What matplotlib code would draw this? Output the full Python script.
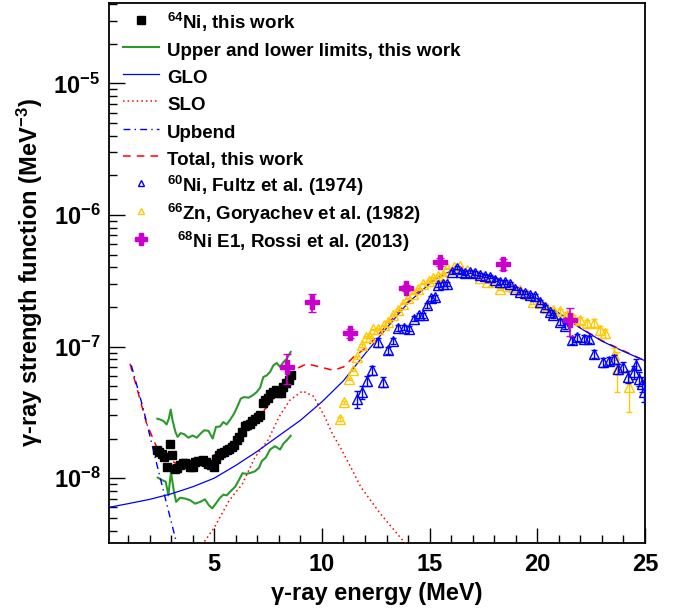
import matplotlib
matplotlib.use('Agg')
import matplotlib.pyplot as plt
from matplotlib.lines import Line2D
from matplotlib.ticker import MultipleLocator, LogLocator, NullFormatter

# 64Ni, this work
ni64_e = [2.33, 2.45, 2.57, 2.69, 2.81, 2.93, 3.05, 3.17, 3.29, 3.41, 3.53, 3.65, 3.77, 3.89,
          4.01, 4.13, 4.25, 4.37, 4.49, 4.61, 4.73, 4.85, 4.97, 5.09, 5.21, 5.33, 5.45, 5.57,
          5.69, 5.81, 5.93, 6.05, 6.17, 6.29, 6.41, 6.53, 6.65, 6.77, 6.89, 7.01, 7.13, 7.25,
          7.37, 7.49, 7.61, 7.73, 7.85, 7.97, 8.09, 8.21, 8.33, 8.45, 8.57]
ni64_s = [1.63e-8, 1.58e-8, 1.52e-8, 1.46e-8, 1.21e-8, 1.82e-8, 1.49e-8, 1.17e-8, 1.19e-8, 1.27e-8,
          1.30e-8, 1.31e-8, 1.28e-8, 1.22e-8, 1.22e-8, 1.32e-8, 1.36e-8, 1.36e-8, 1.37e-8, 1.33e-8,
          1.29e-8, 1.25e-8, 1.22e-8, 1.40e-8, 1.49e-8, 1.55e-8, 1.58e-8, 1.64e-8, 1.68e-8, 1.72e-8,
          1.78e-8, 1.95e-8, 2.05e-8, 2.24e-8, 2.50e-8, 2.55e-8, 2.59e-8, 2.70e-8, 2.83e-8, 2.92e-8,
          3.00e-8, 3.70e-8, 3.95e-8, 4.10e-8, 4.35e-8, 4.50e-8, 4.65e-8, 4.45e-8, 4.40e-8, 4.94e-8,
          5.30e-8, 5.60e-8, 6.05e-8]

# upper and lower limits
upper_e = [2.36, 2.48, 2.64, 2.79, 2.89, 2.98, 3.07, 3.20, 3.30, 3.44, 3.60, 3.80, 4.00, 4.19,
           4.34, 4.53, 4.73, 4.93, 5.08, 5.27, 5.42, 5.58, 5.77, 5.92, 6.08, 6.23, 6.38, 6.59,
           6.79, 6.97, 7.13, 7.28, 7.44, 7.59, 7.75, 7.90, 8.06, 8.21, 8.37, 8.55]
upper_s = [2.83e-8, 2.79e-8, 2.72e-8, 2.56e-8, 2.83e-8, 3.32e-8, 2.72e-8, 2.24e-8, 2.06e-8, 2.20e-8,
           2.16e-8, 2.03e-8, 2.11e-8, 2.03e-8, 2.16e-8, 2.31e-8, 2.29e-8, 2.00e-8, 2.45e-8, 2.47e-8,
           2.67e-8, 2.56e-8, 2.83e-8, 3.09e-8, 3.51e-8, 4.02e-8, 4.13e-8, 4.09e-8, 4.26e-8, 4.51e-8,
           4.87e-8, 5.87e-8, 6.04e-8, 6.41e-8, 7.21e-8, 7.50e-8, 7.00e-8, 7.60e-8, 8.09e-8, 9.10e-8]
lower_e = [2.38, 2.56, 2.75, 2.87, 2.99, 3.12, 3.23, 3.41, 3.64, 3.88, 4.11, 4.34, 4.57, 4.76,
           4.91, 5.07, 5.27, 5.43, 5.58, 5.74, 5.97, 6.15, 6.31, 6.51, 6.71, 6.90, 7.08, 7.21,
           7.39, 7.59, 7.82, 8.06, 8.21, 8.37, 8.55]
lower_s = [1.01e-8, 0.97e-8, 0.94e-8, 0.74e-8, 1.11e-8, 0.81e-8, 0.66e-8, 0.71e-8, 0.70e-8, 0.68e-8,
           0.64e-8, 0.66e-8, 0.69e-8, 0.62e-8, 0.59e-8, 0.64e-8, 0.71e-8, 0.75e-8, 0.74e-8, 0.79e-8,
           0.86e-8, 0.97e-8, 1.09e-8, 1.08e-8, 1.10e-8, 1.13e-8, 1.20e-8, 1.35e-8, 1.43e-8, 1.65e-8,
           1.75e-8, 1.65e-8, 1.83e-8, 1.94e-8, 2.10e-8]

# model curves
glo_e = [0.1, 1, 2, 3, 4, 5, 6, 7, 8, 9, 10, 11, 12, 13, 14, 15, 15.5, 16, 16.5, 17, 17.5, 18,
         19, 20, 21, 22, 23, 24, 25]
glo_s = [6.0e-9, 6.4e-9, 6.9e-9, 7.6e-9, 8.6e-9, 1.0e-8, 1.25e-8, 1.6e-8, 2.1e-8, 2.75e-8, 3.8e-8,
         5.5e-8, 8.8e-8, 1.38e-7, 2.15e-7, 3.0e-7, 3.45e-7, 3.75e-7, 3.8e-7, 3.72e-7, 3.5e-7,
         3.35e-7, 2.85e-7, 2.3e-7, 1.8e-7, 1.38e-7, 1.1e-7, 9.2e-8, 7.8e-8]
slo_e = [4.3, 5.0, 5.7, 6.3, 6.9, 7.5, 8.0, 8.5, 9.1, 9.6, 10.1, 10.5, 10.85, 11.4, 11.8, 12.7,
         13.7, 14.3]
slo_s = [2.9e-9, 4.2e-9, 6.8e-9, 9.0e-9, 1.45e-8, 1.95e-8, 2.9e-8, 3.9e-8, 4.6e-8, 4.2e-8, 3.0e-8,
         2.15e-8, 1.72e-8, 1.16e-8, 8.6e-9, 5.4e-9, 3.45e-9, 2.7e-9]
up_e = [1.15, 1.7, 2.25, 2.75, 3.3]
up_s = [7.2e-8, 3.4e-8, 1.45e-8, 6.8e-9, 3.0e-9]
tot_e = [1.09, 1.4, 1.86, 2.33, 2.79, 3.26, 3.88, 4.5, 5.12, 5.89, 6.66, 7.44, 8.21, 8.83, 9.3,
         9.91, 10.53, 11.0, 11.46, 12.08, 12.86, 13.63, 14.4, 15.18, 16.0, 16.5, 17.0, 18.0, 19.0,
         20.0, 21.0, 22.0, 23.0, 24.0, 25.0]
tot_s = [7.4e-8, 4.9e-8, 2.6e-8, 1.72e-8, 1.41e-8, 1.29e-8, 1.30e-8, 1.38e-8, 1.53e-8, 1.88e-8,
         2.45e-8, 3.47e-8, 5.2e-8, 6.8e-8, 7.4e-8, 7.0e-8, 6.6e-8, 7.0e-8, 8.3e-8, 9.9e-8, 1.36e-7,
         1.9e-7, 2.55e-7, 3.2e-7, 3.76e-7, 3.8e-7, 3.72e-7, 3.37e-7, 2.87e-7, 2.3e-7, 1.8e-7,
         1.39e-7, 1.11e-7, 9.3e-8, 7.8e-8]

# 60Ni, Fultz et al. (1974)
fultz_e = [11.62, 11.85, 12.08, 12.31, 12.62, 12.82, 13.06, 13.32, 13.55, 13.79, 14.05, 14.28,
           14.53, 14.71, 14.87, 15.05, 15.26, 15.41, 15.6, 15.8, 16.03, 16.26, 16.45, 16.65,
           16.88, 17.11, 17.35, 17.58, 17.81, 18.04, 18.27, 18.51, 18.74, 18.97, 19.2, 19.44,
           19.67, 19.9, 20.13, 20.36, 20.6, 20.75, 21.06, 21.29, 21.6, 21.84, 22.15, 22.38,
           22.61, 23.07, 23.31, 23.54, 23.77, 24.0, 24.23, 24.47, 24.59, 24.7, 24.85, 24.96]
fultz_s = [0.40e-7, 0.45e-7, 0.55e-7, 0.66e-7, 1.08e-7, 0.54e-7, 0.94e-7, 1.10e-7, 1.39e-7, 1.39e-7,
           1.37e-7, 1.63e-7, 1.73e-7, 1.73e-7, 2.06e-7, 2.32e-7, 2.36e-7, 2.92e-7, 3.00e-7, 3.00e-7,
           3.70e-7, 3.98e-7, 3.70e-7, 3.62e-7, 3.70e-7, 3.62e-7, 3.52e-7, 3.46e-7, 3.40e-7, 3.23e-7,
           3.08e-7, 3.08e-7, 2.98e-7, 2.76e-7, 2.62e-7, 2.57e-7, 2.48e-7, 2.42e-7, 2.18e-7, 2.00e-7,
           1.83e-7, 1.73e-7, 1.54e-7, 1.43e-7, 1.12e-7, 1.18e-7, 1.15e-7, 1.14e-7, 0.88e-7, 0.76e-7,
           0.78e-7, 0.80e-7, 0.68e-7, 0.70e-7, 0.59e-7, 0.64e-7, 0.73e-7, 0.57e-7, 0.52e-7, 0.45e-7]
fultz_err = [0.06e-7, 0.05e-7, 0.05e-7, 0.05e-7, 0.08e-7, 0.05e-7, 0.06e-7, 0.06e-7, 0.07e-7, 0.06e-7,
             0.06e-7, 0.07e-7, 0.07e-7, 0.07e-7, 0.08e-7, 0.09e-7, 0.09e-7, 0.1e-7, 0.1e-7, 0.1e-7,
             0.12e-7, 0.12e-7, 0.11e-7, 0.1e-7, 0.1e-7, 0.1e-7, 0.1e-7, 0.1e-7, 0.1e-7, 0.1e-7,
             0.1e-7, 0.1e-7, 0.09e-7, 0.09e-7, 0.09e-7, 0.08e-7, 0.08e-7, 0.08e-7, 0.08e-7, 0.08e-7,
             0.08e-7, 0.08e-7, 0.08e-7, 0.08e-7, 0.07e-7, 0.07e-7, 0.07e-7, 0.07e-7, 0.06e-7, 0.06e-7,
             0.06e-7, 0.06e-7, 0.06e-7, 0.06e-7, 0.06e-7, 0.07e-7, 0.07e-7, 0.07e-7, 0.07e-7, 0.07e-7]

# 66Zn, Goryachev et al. (1982)
gor_e = [10.84, 11.03, 11.28, 11.43, 11.62, 11.85, 12.05, 12.22, 12.39, 12.62, 12.86, 13.09,
         13.32, 13.55, 13.78, 14.02, 14.25, 14.48, 14.71, 14.95, 15.18, 15.41, 15.64, 15.8, 16.11,
         16.42, 16.73, 17.04, 17.35, 17.66, 17.96, 18.27, 18.58, 18.89, 19.2, 19.51, 19.82, 20.13,
         20.44, 20.75, 21.06, 21.37, 21.68, 21.99, 22.3, 22.61, 22.92, 23.15, 23.54, 23.7, 24.24]
gor_s = [0.283e-7, 0.379e-7, 0.57e-7, 0.66e-7, 0.83e-7, 1.02e-7, 1.18e-7, 1.18e-7, 1.35e-7, 1.36e-7,
         1.45e-7, 1.55e-7, 1.73e-7, 1.89e-7, 2.12e-7, 2.32e-7, 2.53e-7, 2.74e-7, 3.01e-7, 3.16e-7,
         3.31e-7, 3.44e-7, 3.50e-7, 3.92e-7, 4.00e-7, 4.08e-7, 3.80e-7, 3.60e-7, 3.29e-7, 3.10e-7,
         3.10e-7, 2.76e-7, 2.90e-7, 2.85e-7, 2.68e-7, 2.50e-7, 2.18e-7, 2.15e-7, 1.95e-7, 1.90e-7,
         1.85e-7, 1.73e-7, 1.64e-7, 1.58e-7, 1.50e-7, 1.52e-7, 1.33e-7, 1.26e-7, 0.86e-7, 0.68e-7,
         0.49e-7]
gor_err = [0.01e-7, 0.01e-7, 0.01e-7, 0.01e-7, 0.02e-7, 0.02e-7, 0.02e-7, 0.02e-7, 0.02e-7, 0.02e-7,
           0.02e-7, 0.02e-7, 0.03e-7, 0.03e-7, 0.03e-7, 0.03e-7, 0.03e-7, 0.03e-7, 0.03e-7, 0.04e-7,
           0.04e-7, 0.04e-7, 0.04e-7, 0.04e-7, 0.04e-7, 0.04e-7, 0.04e-7, 0.04e-7, 0.04e-7, 0.05e-7,
           0.05e-7, 0.05e-7, 0.05e-7, 0.05e-7, 0.06e-7, 0.06e-7, 0.06e-7, 0.07e-7, 0.07e-7, 0.08e-7,
           0.08e-7, 0.09e-7, 0.09e-7, 0.1e-7, 0.1e-7, 0.1e-7, 0.1e-7, 0.1e-7, 0.12e-7, 0.23e-7,
           0.17e-7]

# 68Ni E1, Rossi et al. (2013)
rossi_e = [8.40, 9.53, 11.31, 13.91, 15.49, 18.40, 21.50]
rossi_s = [7.0e-8, 2.18e-7, 1.27e-7, 2.81e-7, 4.4e-7, 4.22e-7, 1.58e-7]
rossi_err = [1.8e-8, 0.35e-7, 0.1e-7, 0.15e-7, 0.3e-7, 0.4e-7, 0.37e-7]

plt.rcParams['font.family'] = 'Liberation Sans'
plt.rcParams['font.weight'] = 'bold'
plt.rcParams['axes.labelweight'] = 'bold'
plt.rcParams['mathtext.fontset'] = 'custom'
plt.rcParams['mathtext.rm'] = 'Liberation Sans:bold'
plt.rcParams['mathtext.it'] = 'Liberation Sans:bold'
plt.rcParams['mathtext.bf'] = 'Liberation Sans:bold'
plt.rcParams['mathtext.sf'] = 'Liberation Sans:bold'

green = '#2a9a2a'
blue = '#0000ff'
red = '#ff0000'
gold = '#ffc800'
mag = '#cc00cc'

fig = plt.figure(figsize=(6.91, 6.11), dpi=100)
ax = fig.add_axes([0.1573, 0.1108, 0.7761, 0.8848])

ax.plot(tot_e, tot_s, color=red, lw=1.1, dashes=(5, 4), zorder=3)
ax.plot(slo_e, slo_s, color=red, lw=1.1, ls=(0, (1, 2)), zorder=3)
ax.plot(up_e, up_s, color=blue, lw=1.0, ls=(0, (5, 3, 1, 3)), zorder=3)
ax.plot(glo_e, glo_s, color=blue, lw=0.9, zorder=4)
ax.plot(upper_e, upper_s, color=green, lw=1.5, zorder=2)
ax.plot(lower_e, lower_s, color=green, lw=1.5, zorder=2)

ax.errorbar(gor_e, gor_s, yerr=gor_err, fmt='^', ms=6.5, mfc='none', mec=gold, mew=1.0,
            ecolor=gold, elinewidth=1.0, capsize=2.5, zorder=5)
ax.errorbar(fultz_e, fultz_s, yerr=fultz_err, fmt='^', ms=6.5, mfc='none', mec=blue, mew=1.0,
            ecolor=blue, elinewidth=1.0, capsize=2.5, zorder=6)
ax.plot(ni64_e, ni64_s, 's', color='black', ms=6, zorder=7)
ax.errorbar(rossi_e, rossi_s, yerr=rossi_err, fmt='P', ms=10, color=mag, mec=mag,
            elinewidth=1.2, capsize=3, zorder=8)

ax.set_yscale('log')
ax.set_xlim(0.1, 25)
ax.set_ylim(3.2e-9, 4.1e-5)

ax.xaxis.set_major_locator(MultipleLocator(5))
ax.xaxis.set_minor_locator(MultipleLocator(1))
ax.yaxis.set_major_locator(LogLocator(base=10))
ax.yaxis.set_minor_locator(LogLocator(base=10, subs=range(2, 10)))
ax.yaxis.set_minor_formatter(NullFormatter())
ax.tick_params(which='both', direction='in', top=False, right=False, labelsize=17)
ax.tick_params(axis='y', which='major', length=11.5, width=1.0, pad=6)
ax.tick_params(axis='y', which='minor', length=5.5, width=1.0)
ax.tick_params(axis='x', which='major', length=11, width=1.0, pad=7)
ax.tick_params(axis='x', which='minor', length=5.5, width=1.0)
for s in ax.spines.values():
    s.set_linewidth(1.3)

ax.set_xlabel('γ-ray energy (MeV)', fontsize=17, fontweight='bold', labelpad=4)
ax.set_ylabel('γ-ray strength function (MeV$^{-3}$)', fontsize=17, fontweight='bold',
              labelpad=6)

handles = [
    Line2D([], [], ls='none', marker='s', color='black', ms=6),
    Line2D([], [], color=green, lw=1.5),
    Line2D([], [], color=blue, lw=0.9),
    Line2D([], [], color=red, lw=1.1, ls=(0, (1, 2))),
    Line2D([], [], color=blue, lw=1.0, ls=(0, (5, 3, 1, 3))),
    Line2D([], [], color=red, lw=1.1, dashes=(5, 4)),
    Line2D([], [], ls='none', marker='^', ms=5, mfc='none', mec=blue, mew=1.0),
    Line2D([], [], ls='none', marker='^', ms=5, mfc='none', mec=gold, mew=1.0),
    Line2D([], [], ls='none', marker='P', ms=9, color=mag),
]
labels = [
    '$^{64}$Ni, this work',
    'Upper and lower limits, this work',
    'GLO',
    'SLO',
    'Upbend',
    'Total, this work',
    '$^{60}$Ni, Fultz et al. (1974)',
    '$^{66}$Zn, Goryachev et al. (1982)',
    '  $^{68}$Ni E1, Rossi et al. (2013)',
]
ax.legend(handles, labels, loc='upper left', bbox_to_anchor=(0.0267, 0.9855),
          frameon=False, fontsize=13.5, handlelength=1.92, handletextpad=0.43,
          handleheight=1.55, labelspacing=0.2, borderpad=0, borderaxespad=0)

fig.savefig('out.png', dpi=100)
